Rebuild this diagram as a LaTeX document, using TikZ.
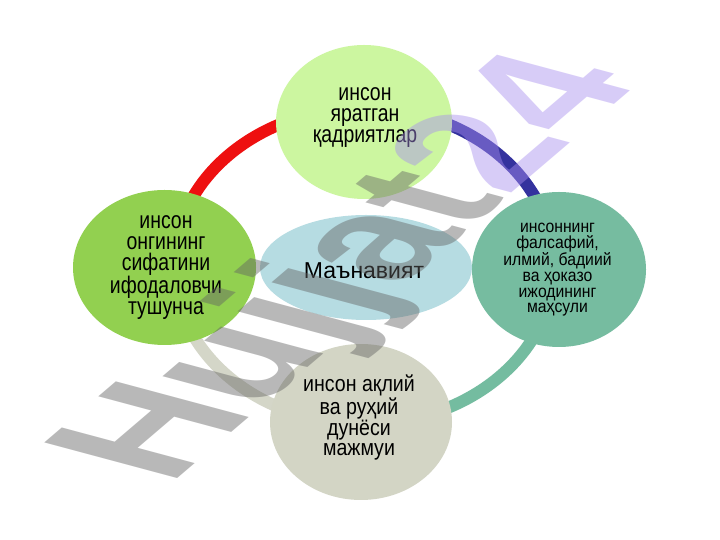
\documentclass[tikz,border=0pt]{standalone}
\usepackage{fontspec}
\setmainfont{Liberation Sans}
\newfontfamily\fA[FakeStretch=0.81]{Liberation Sans}
\newfontfamily\fR[FakeStretch=0.9]{Liberation Sans}
\newfontfamily\fB[FakeStretch=0.87]{Liberation Sans}
\newfontfamily\fW{Liberation Sans Bold}
\usetikzlibrary{shapes.geometric}
\definecolor{ctop}{RGB}{204,246,160}
\definecolor{cleft}{RGB}{146,208,80}
\definecolor{cright}{RGB}{118,188,160}
\definecolor{cbot}{RGB}{211,213,197}
\definecolor{cmid}{RGB}{182,220,226}
\definecolor{rred}{RGB}{238,16,16}
\definecolor{rblue}{RGB}{52,50,158}
\definecolor{rteal}{RGB}{116,188,160}
\definecolor{rbeige}{RGB}{212,214,200}
\definecolor{wmgray}{RGB}{99,99,99}
\definecolor{wmviolet}{RGB}{168,142,239}
\begin{document}
\begin{tikzpicture}[x=1pt,y=1pt,
  ringarc/.style={line width=12pt},
  blob/.style={ellipse, draw=none, inner sep=0pt, outer sep=0pt},
  lbl/.style={align=center, inner sep=0pt, text=black}]
\useasboundingbox (0,0) rectangle (720,540);
\fill[white] (0,0) rectangle (720,540);
\coordinate (rc) at (364,274);
% ring
\draw[ringarc, rred]   ([shift={(90:190pt and 158pt)}]rc)  arc[start angle=90,  end angle=180, x radius=190pt, y radius=158pt];
\draw[ringarc, rblue]  ([shift={(0:190pt and 158pt)}]rc)   arc[start angle=0,   end angle=90,  x radius=190pt, y radius=158pt];
\draw[ringarc, rteal]  ([shift={(270:190pt and 158pt)}]rc) arc[start angle=270, end angle=360, x radius=190pt, y radius=158pt];
\draw[ringarc, rbeige] ([shift={(180:190pt and 158pt)}]rc) arc[start angle=180, end angle=270, x radius=190pt, y radius=158pt];
% circles
\node[blob, fill=ctop,   minimum width=176pt, minimum height=154pt] (T) at (364,418) {};
\node[blob, fill=cleft,  minimum width=183pt, minimum height=155pt] (L) at (164.5,272.5) {};
\node[blob, fill=cright, minimum width=174pt, minimum height=155pt] (R) at (559,270.5) {};
\node[blob, fill=cbot,   minimum width=182pt, minimum height=156pt] (B) at (361,118) {};
\node[blob, fill=cmid,   minimum width=212pt, minimum height=105pt] (M) at (366,272.5) {};
% texts
\node[lbl, font=\fA\fontsize{24}{21}\selectfont] (Tt) at (365,422.5) {инсон\\яратган\\қадриятлар};
\node[lbl, font=\fA\fontsize{24}{21}\selectfont] (Lt) at (166,272.6) {инсон\\онгининг\\сифатини\\ифодаловчи\\тушунча};
\node[lbl, font=\fR\fontsize{17.5}{15.7}\selectfont] (Rt) at (557.5,270.3) {инсоннинг\\фалсафий,\\илмий, бадиий\\ва ҳоказо\\ижодининг\\маҳсули};
\node[lbl, font=\fB\fontsize{22.5}{20}\selectfont] (Bt) at (359,122.4) {инсон ақлий\\ва руҳий\\дунёси\\мажмуи};
\node[lbl, font=\fontsize{23}{23}\selectfont, anchor=base] (Mt) at (364,261.7) {Маънавият};
% watermark
\begin{scope}[cm={1.217,1.039,-1.932,0.518,(169.2,54.8)}]
\node[transform shape, anchor=base west, inner sep=0pt, outer sep=0pt,
      font=\fW\fontsize{100}{100}\selectfont, text opacity=0.45] (wm) at (0,0)
      {\textcolor{wmgray}{Hujjat}\textcolor{wmviolet}{24}};
\end{scope}
\end{tikzpicture}
\end{document}
